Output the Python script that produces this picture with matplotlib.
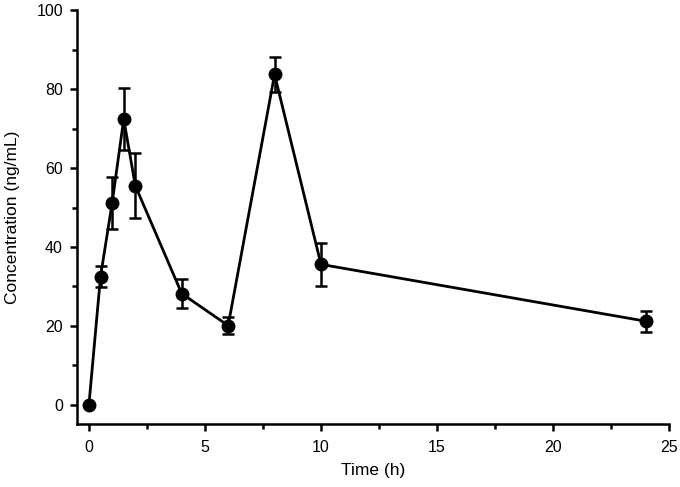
import numpy as np
import matplotlib
matplotlib.use("Agg")
import matplotlib.pyplot as plt
from matplotlib.ticker import MultipleLocator

plt.rcParams['font.family'] = ['Liberation Sans', 'DejaVu Sans']

# Plasma concentration over time
time_h = [0, 0.5, 1, 1.5, 2, 4, 6, 8, 10, 24]
conc = [0, 32.5, 51.1, 72.4, 55.5, 28.2, 20.1, 83.7, 35.6, 21.2]
conc_sd = [0, 2.7, 6.5, 7.8, 8.2, 3.6, 2.2, 4.5, 5.4, 2.7]

fig = plt.figure(figsize=(6.8, 4.87), dpi=100)
ax = fig.add_axes([0.113, 0.1287, 0.871, 0.8507])

ax.errorbar(time_h, conc, yerr=conc_sd, color='black', marker='o', markersize=9,
            linewidth=2, elinewidth=1.8, capsize=4.5, capthick=1.8)

ax.set_xlim(-0.52, 25)
ax.set_ylim(-4.9, 100)
ax.spines['top'].set_visible(False)
ax.spines['right'].set_visible(False)
for s in ['left', 'bottom']:
    ax.spines[s].set_linewidth(1.8)

ax.xaxis.set_major_locator(MultipleLocator(5))
ax.xaxis.set_minor_locator(MultipleLocator(2.5))
ax.yaxis.set_major_locator(MultipleLocator(20))
ax.yaxis.set_minor_locator(MultipleLocator(10))
ax.tick_params(which='major', length=5, width=1.8, labelsize=11.5, direction='out')
ax.tick_params(which='minor', length=3.5, width=1.8, direction='out')
ax.tick_params(axis='x', which='major', pad=6)
ax.tick_params(axis='y', which='major', pad=5)

ax.set_xlabel("Time (h)", fontsize=12.5, labelpad=6)
ax.set_ylabel("Concentration (ng/mL)", fontsize=12.5, labelpad=12)

fig.savefig("out.png", dpi=100)
